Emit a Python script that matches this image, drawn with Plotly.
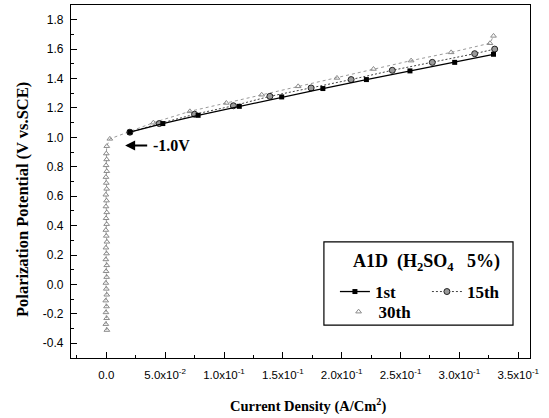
import plotly.graph_objects as go

# ---- data ----
x_1st = [0.020, 0.048, 0.078, 0.113, 0.149, 0.184, 0.221, 0.258, 0.296, 0.329]
y_1st = [1.035, 1.094, 1.150, 1.211, 1.275, 1.332, 1.393, 1.452, 1.510, 1.565]

x_15th = [0.020, 0.045, 0.075, 0.108, 0.139, 0.174, 0.208, 0.243, 0.277, 0.313, 0.330]
y_15th = [1.035, 1.094, 1.157, 1.215, 1.279, 1.336, 1.393, 1.456, 1.510, 1.569, 1.600]

x_30th = [0.0005, -0.0004, 0.0003, -0.0003, 0.0002, -0.0005, 0.0004, 0.0, -0.0004, 0.0003,
          -0.0002, 0.0004, -0.0004, 0.0002, -0.0003, 0.0005, 0.0, -0.0004, 0.0003, -0.0002,
          0.0004, -0.0003, 0.0002, -0.0004, 0.0003, 0.0, -0.0003, 0.0004, -0.0002, 0.0003,
          0.0, 0.0004, 0.003, 0.020, 0.040, 0.071, 0.102, 0.132, 0.163, 0.196, 0.227, 0.259,
          0.293, 0.326, 0.329]
y_30th = [-0.31, -0.27, -0.23, -0.19, -0.15, -0.11, -0.07, -0.03, 0.01, 0.05,
          0.09, 0.13, 0.17, 0.21, 0.25, 0.29, 0.33, 0.37, 0.41, 0.45,
          0.49, 0.53, 0.57, 0.61, 0.65, 0.69, 0.73, 0.77, 0.81, 0.85,
          0.89, 0.94, 0.99, 1.04, 1.10, 1.177, 1.234, 1.290, 1.347, 1.404, 1.465, 1.522,
          1.578, 1.640, 1.690]

x_tickvals = [0.0, 0.05, 0.10, 0.15, 0.20, 0.25, 0.30, 0.35]
x_ticktext = ["0.0", "5.0x10<sup>-2</sup>", "1.0x10<sup>-1</sup>", "1.5x10<sup>-1</sup>",
              "2.0x10<sup>-1</sup>", "2.5x10<sup>-1</sup>", "3.0x10<sup>-1</sup>", "3.5x10<sup>-1</sup>"]
y_tickvals = [-0.4, -0.2, 0.0, 0.2, 0.4, 0.6, 0.8, 1.0, 1.2, 1.4, 1.6, 1.8]
y_ticktext = ["-0.4", "-0.2", "0.0", "0.2", "0.4", "0.6", "0.8", "1.0", "1.2", "1.4", "1.6", "1.8"]

SERIF = "Liberation Serif"
SANS = "Liberation Sans"

fig = go.Figure()
# 30th: dotted line (no legend) + open triangle markers (legend shows marker only)
fig.add_trace(go.Scatter(
    x=x_30th, y=y_30th, mode="lines", showlegend=False,
    line=dict(color="#9a9a9a", width=1, dash="dot"), hoverinfo="skip"))
fig.add_trace(go.Scatter(
    x=x_30th, y=y_30th, name="<b>30th</b>", mode="markers", legend="legend2",
    marker=dict(symbol="triangle-up-open", size=5, color="#8a8a8a", line=dict(width=1))))
fig.add_trace(go.Scatter(
    x=x_15th, y=y_15th, name="<b>15th</b>", mode="lines+markers", legend="legend",
    line=dict(color="#444444", width=1, dash="2px,2px"),
    marker=dict(symbol="circle", size=6, color="#9a9a9a", line=dict(color="#222222", width=1))))
fig.add_trace(go.Scatter(
    x=x_1st, y=y_1st, name="<b>1st</b>", mode="lines+markers", legend="legend",
    line=dict(color="black", width=1.3),
    marker=dict(symbol="square", size=5, color="black")))

fig.update_layout(
    width=549, height=418,
    margin=dict(l=71, r=19, t=5, b=60),
    plot_bgcolor="white", paper_bgcolor="white",
    showlegend=True,
    legend=dict(orientation="h", x=0.575, xanchor="left", y=0.187, yanchor="middle",
                traceorder="reversed", entrywidth=47, bgcolor="rgba(0,0,0,0)",
                font=dict(family=SERIF, size=17, color="black"), itemwidth=30),
    legend2=dict(orientation="h", x=0.583, xanchor="left", y=0.13, yanchor="middle",
                 bgcolor="rgba(0,0,0,0)",
                 font=dict(family=SERIF, size=17, color="black")),
    xaxis=dict(range=[-0.03, 0.36], tickvals=x_tickvals, ticktext=x_ticktext,
               ticks="inside", ticklen=6, tickcolor="black", showgrid=False, zeroline=False,
               showline=True, linecolor="black", linewidth=1.2, mirror=True,
               minor=dict(dtick=0.025, tick0=0, ticks="inside", ticklen=3, tickcolor="black"),
               ticklabelstandoff=6,
               tickfont=dict(family=SANS, size=11.5, color="black")),
    yaxis=dict(range=[-0.5, 1.9], tickvals=y_tickvals, ticktext=y_ticktext,
               ticks="inside", ticklen=6, tickcolor="black", showgrid=False, zeroline=False,
               showline=True, linecolor="black", linewidth=1.2, mirror=True,
               minor=dict(dtick=0.1, tick0=0, ticks="inside", ticklen=3, tickcolor="black"),
               ticklabelstandoff=4,
               tickfont=dict(family=SANS, size=12, color="black")),
    shapes=[dict(type="rect", xref="paper", yref="paper", x0=0.551, x1=0.963, y0=0.093, y1=0.329,
                 line=dict(color="black", width=1.2), fillcolor="rgba(0,0,0,0)")],
    annotations=[
        dict(xref="paper", yref="paper", x=-0.107, y=0.45, xanchor="center", yanchor="middle",
             textangle=-90, text="<b>Polarization Potential (V vs.SCE)</b>", showarrow=False,
             font=dict(family=SERIF, size=16.5, color="black")),
        dict(xref="paper", yref="paper", x=0.516, y=-0.135, xanchor="center", yanchor="middle",
             text="<b>Current Density (A/Cm<sup>2</sup>)</b>", showarrow=False,
             font=dict(family=SERIF, size=14.5, color="black")),
        dict(xref="paper", yref="paper", x=0.61, y=0.27, xanchor="left", yanchor="middle",
             text="<b>A1D  (H<sub>2</sub>SO<sub>4</sub>   5%)</b>", showarrow=False,
             font=dict(family=SERIF, size=18, color="black")),
        dict(x=0.016, y=0.945, ax=0.036, ay=0.945, axref="x", ayref="y", xref="x", yref="y",
             text="", showarrow=True, arrowhead=2, arrowsize=1, arrowwidth=2, arrowcolor="black"),
        dict(x=0.038, y=0.945, xref="x", yref="y", xanchor="left", yanchor="middle",
             text="<b>-1.0V</b>", showarrow=False,
             font=dict(family=SERIF, size=16, color="black")),
    ],
)

fig.write_html("out.html")
